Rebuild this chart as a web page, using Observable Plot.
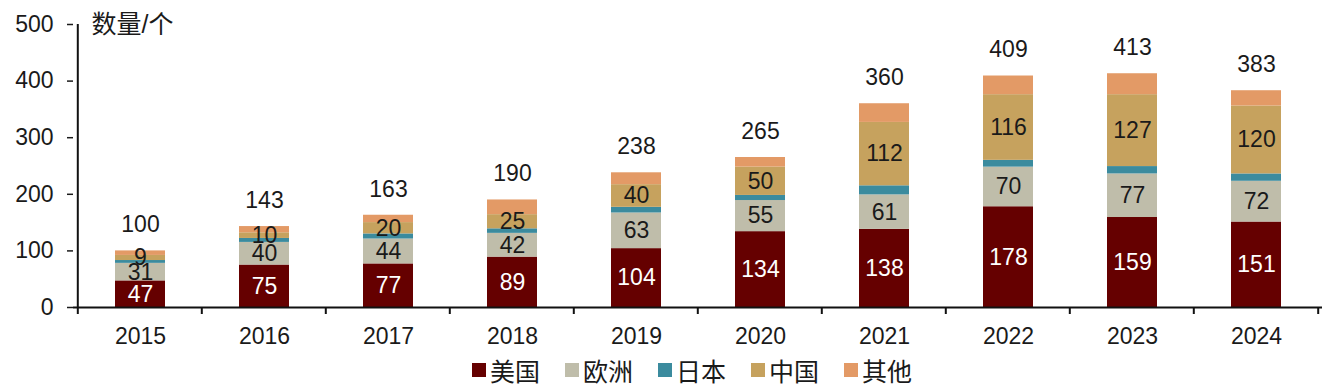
<!DOCTYPE html>
<html><head><meta charset="utf-8">
<script src="https://cdn.jsdelivr.net/npm/d3@7"></script>
<script src="https://cdn.jsdelivr.net/npm/@observablehq/plot@0.6"></script>
<style>
body{margin:0;background:#fff;font-family:"Liberation Sans",Arial,"Noto Sans CJK SC",sans-serif;color:#1a1a1a;}
#chart{width:1335px;position:relative;}
.legend{display:flex;justify-content:flex-start;padding-left:472px;margin-top:1px;height:30px;align-items:center;font-size:25px;}
.legend .item{display:flex;align-items:center;margin-right:25px;}
.legend .sw{width:14px;height:14px;margin-right:4px;display:inline-block;}
</style></head><body><div id="chart"></div>
<script>
const years = ["2015","2016","2017","2018","2019","2020","2021","2022","2023","2024"];
const us    = [47, 75, 77, 89, 104, 134, 138, 178, 159, 151];
const eu    = [31, 40, 44, 42, 63, 55, 61, 70, 77, 72];
const jp    = [5, 7, 9, 8, 10, 9, 16, 12, 13, 13];
const cn    = [9, 10, 20, 25, 40, 50, 112, 116, 127, 120];
const other = [8, 11, 13, 26, 21, 17, 33, 33, 37, 27];
const totals = [100, 143, 163, 190, 238, 265, 360, 409, 413, 383];
const series = ["美国","欧洲","日本","中国","其他"];
const colors = ["#650000","#BFBDAA","#3B8B9E","#C6A25E","#E39A66"];
const labelled = [true, true, false, true, false];
const yTicks = [0,100,200,300,400,500];
const unitLabel = "数量/个";

const values = [us, eu, jp, cn, other];
const rows = series.flatMap((s, si) => years.map((yr, i) => ({
  year: yr, series: s, value: values[si][i],
  label: labelled[si] ? String(values[si][i]) : null
})));
const totalsData = years.map((yr, i) => ({year: yr, total: totals[i]}));

const font = `"Liberation Sans", Arial, "Noto Sans CJK SC", sans-serif`;
const fs = 23;
const plot = Plot.plot({
  width: 1335, height: 354,
  marginLeft: 73, marginRight: 13, marginTop: 24, marginBottom: 47,
  style: {fontFamily: font, fontSize: fs + "px", color: "#1a1a1a", background: "#fff"},
  x: {domain: years, paddingInner: 0.6, paddingOuter: 0.3, label: null},
  y: {domain: [0, 500], label: null},
  color: {domain: series, range: colors},
  marks: [
    Plot.barY(rows, {x: "year", y: "value", fill: "series", order: series}),
    Plot.text(rows, Plot.stackY({x: "year", y: "value", z: "series", order: series,
      text: d => d.series === "美国" ? d.label : null, fill: "white", fontSize: fs})),
    Plot.text(rows, Plot.stackY({x: "year", y: "value", z: "series", order: series,
      text: d => d.series !== "美国" ? d.label : null, fill: "#1a1a1a", fontSize: fs})),
    Plot.text(totalsData, {x: "year", y: "total", text: d => String(d.total), dy: -26, fontSize: fs, fill: "#1a1a1a"}),
    Plot.axisX({tickSize: 0, tickPadding: 20, fontSize: fs}),
    Plot.axisY({ticks: yTicks, tickSize: 6, tickPadding: 14, fontSize: fs, tickFormat: d => String(d), strokeWidth: 1.5}),
    Plot.ruleY([0], {strokeWidth: 2, stroke: "#111"}),
    Plot.text([unitLabel], {frameAnchor: "top-left", textAnchor: "start", lineAnchor: "top", dx: 18, dy: -9, fontSize: 25, fill: "#1a1a1a"})
  ]
});

// axis line on the left and category-boundary ticks on the x axis, derived from the scales
const xs = plot.scale("x"), ys = plot.scale("y");
const half = xs.step * xs.paddingInner / 2;
const bounds = years.map(yr => xs.apply(yr) - half);
bounds.push(xs.apply(years[years.length - 1]) + xs.bandwidth + half);
const svg = d3.select(plot);
const g = svg.append("g").attr("stroke", "#111");
g.append("line").attr("x1", bounds[0]).attr("x2", bounds[0])
  .attr("y1", ys.apply(500)).attr("y2", ys.apply(0)).attr("stroke-width", 2);
g.selectAll("line.tk").data(bounds).join("line").attr("class", "tk")
  .attr("x1", d => d).attr("x2", d => d)
  .attr("y1", ys.apply(0)).attr("y2", ys.apply(0) + 7).attr("stroke-width", 2);

const chart = document.getElementById("chart");
chart.appendChild(plot);
const legend = document.createElement("div");
legend.className = "legend";
series.forEach((s, i) => {
  const it = document.createElement("div");
  it.className = "item";
  it.innerHTML = `<span class="sw" style="background:${colors[i]}"></span><span>${s}</span>`;
  legend.appendChild(it);
});
chart.appendChild(legend);
</script>
</body></html>
